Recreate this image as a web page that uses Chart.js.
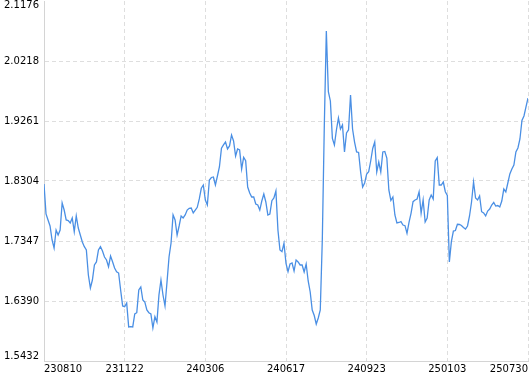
<!DOCTYPE html>
<html>
<head>
<meta charset="utf-8">
<script src="https://cdn.jsdelivr.net/npm/chart.js@4/dist/chart.umd.min.js"></script>
<style>
  html, body { margin: 0; padding: 0; background: #fff; }
  canvas { display: block; }
</style>
</head>
<body>
<canvas id="chart" width="530" height="374"></canvas>
<script>
// x tick labels, evenly spread over the series
const xTickLabels = ['230810', '231122', '240306', '240617', '240923', '250103', '250730'];

// y tick labels (bottom to top)
const yTickLabels = ['1.5432', '1.6390', '1.7347', '1.8304', '1.9261', '2.0218', '2.1176'];
const yMin = 1.5432;
const yMax = 2.1176;

// series values
const values = [
  1.8256, 1.7778, 1.7682, 1.7586, 1.7363, 1.7235, 1.7522, 1.7443, 1.7522, 1.7953,
  1.7841, 1.7682, 1.7671, 1.7634, 1.7714, 1.7495, 1.7746, 1.7554, 1.7443, 1.7331,
  1.7256, 1.7203, 1.6804, 1.6597, 1.6724, 1.6964, 1.7012, 1.7203, 1.7256, 1.7187,
  1.7091, 1.7044, 1.6937, 1.7107, 1.7016, 1.6916, 1.6857, 1.6836, 1.6565, 1.6310,
  1.6298, 1.6357, 1.5975, 1.5979, 1.5975, 1.6182, 1.6203, 1.6565, 1.6613, 1.6405,
  1.6373, 1.6246, 1.6203, 1.6182, 1.5959, 1.6139, 1.6054, 1.6485, 1.6724, 1.6485,
  1.6310, 1.6693, 1.7091, 1.7315, 1.7762, 1.7682, 1.7443, 1.7586, 1.7746, 1.7714,
  1.7762, 1.7841, 1.7869, 1.7873, 1.7794, 1.7841, 1.7884, 1.8017, 1.8188, 1.8240,
  1.8001, 1.7921, 1.8320, 1.8360, 1.8368, 1.8240, 1.8384, 1.8532, 1.8826, 1.8879,
  1.8926, 1.8815, 1.8863, 1.9038, 1.8942, 1.8703, 1.8815, 1.8799, 1.8496, 1.8682,
  1.8628, 1.8208, 1.8113, 1.8049, 1.8049, 1.7937, 1.7921, 1.7841, 1.7985, 1.8097,
  1.7969, 1.7762, 1.7778, 1.7990, 1.8033, 1.8145, 1.7522, 1.7203, 1.7176, 1.7310,
  1.6991, 1.6857, 1.6980, 1.6996, 1.6868, 1.7044, 1.7012, 1.6964, 1.6964, 1.6852,
  1.6980, 1.6709, 1.6533, 1.6246, 1.6158, 1.6022, 1.6118, 1.6246, 1.7363, 1.9198,
  2.0698, 1.9729, 1.9581, 1.8985, 1.8879, 1.9118, 1.9309, 1.9134, 1.9198, 1.8767,
  1.9070, 1.9118, 1.9676, 1.9134, 1.8926, 1.8767, 1.8759, 1.8448, 1.8208, 1.8272,
  1.8416, 1.8453, 1.8623, 1.8823, 1.8926, 1.8448, 1.8607, 1.8448, 1.8767, 1.8775,
  1.8671, 1.8161, 1.7993, 1.8049, 1.7762, 1.7634, 1.7642, 1.7655, 1.7602, 1.7591,
  1.7470, 1.7645, 1.7789, 1.7974, 1.8001, 1.8017, 1.8133, 1.7789, 1.8001, 1.7650,
  1.7714, 1.8001, 1.8081, 1.8017, 1.8623, 1.8676, 1.8240, 1.8240, 1.8288, 1.8133,
  1.8073, 1.7012, 1.7336, 1.7506, 1.7514, 1.7613, 1.7610, 1.7594, 1.7562, 1.7538,
  1.7586, 1.7746, 1.7969, 1.8288, 1.8033, 1.8001, 1.8065, 1.7814, 1.7794, 1.7746,
  1.7825, 1.7857, 1.7921, 1.7961, 1.7905, 1.7913, 1.7889, 1.7985, 1.8176, 1.8129,
  1.8272, 1.8416, 1.8496, 1.8559, 1.8767, 1.8831, 1.8974, 1.9269, 1.9341, 1.9485,
  1.9628
];

const lastIdx = values.length - 1;
const gridColor = '#dedede';
const tickFont = { family: 'DejaVu Sans', size: 10, lineHeight: 0.9 };

const ctx = document.getElementById('chart').getContext('2d');
new Chart(ctx, {
  type: 'line',
  data: {
    datasets: [{
      data: values.map((v, i) => ({ x: i, y: v })),
      borderColor: '#4a8fe4',
      borderWidth: 1.3,
      pointRadius: 0,
      tension: 0,
      fill: false
    }]
  },
  options: {
    responsive: false,
    animation: false,
    devicePixelRatio: 1,
    layout: { padding: { top: 1, right: 2, left: 0, bottom: 0 } },
    plugins: {
      legend: { display: false },
      tooltip: { enabled: false }
    },
    scales: {
      x: {
        type: 'linear',
        min: 0,
        max: lastIdx,
        afterBuildTicks: (axis) => {
          axis.ticks = xTickLabels.map((l, i) => ({ value: i * lastIdx / (xTickLabels.length - 1) }));
        },
        afterFit: (axis) => { axis.height = 13; },
        ticks: {
          align: 'inner',
          maxRotation: 0,
          autoSkip: false,
          padding: 2,
          color: '#000',
          font: { family: 'DejaVu Sans', size: 10 },
          callback: (v, i) => xTickLabels[i]
        },
        grid: { color: gridColor, drawTicks: false },
        border: { color: '#d4d4d4', dash: [4, 3] }
      },
      y: {
        type: 'linear',
        min: yMin,
        max: yMax,
        afterBuildTicks: (axis) => {
          axis.ticks = yTickLabels.map((l, i) => ({ value: yMin + i * (yMax - yMin) / (yTickLabels.length - 1) }));
        },
        afterFit: (axis) => {
          axis.width = 44;
          axis.paddingTop = 0;
          axis.paddingBottom = 0;
        },
        ticks: {
          padding: 5,
          color: '#000',
          font: tickFont,
          callback: (v, i) => {
            // keep the edge labels inside the plot, like the original
            if (i === 0) return [yTickLabels[i], ''];
            if (i === yTickLabels.length - 1) return ['', yTickLabels[i]];
            return yTickLabels[i];
          }
        },
        grid: {
          drawTicks: false,
          color: (c) => (c.index === yTickLabels.length - 1 ? 'rgba(0,0,0,0)' : gridColor)
        },
        border: { color: '#d4d4d4', dash: [4, 3] }
      }
    }
  }
});
</script>
</body>
</html>
